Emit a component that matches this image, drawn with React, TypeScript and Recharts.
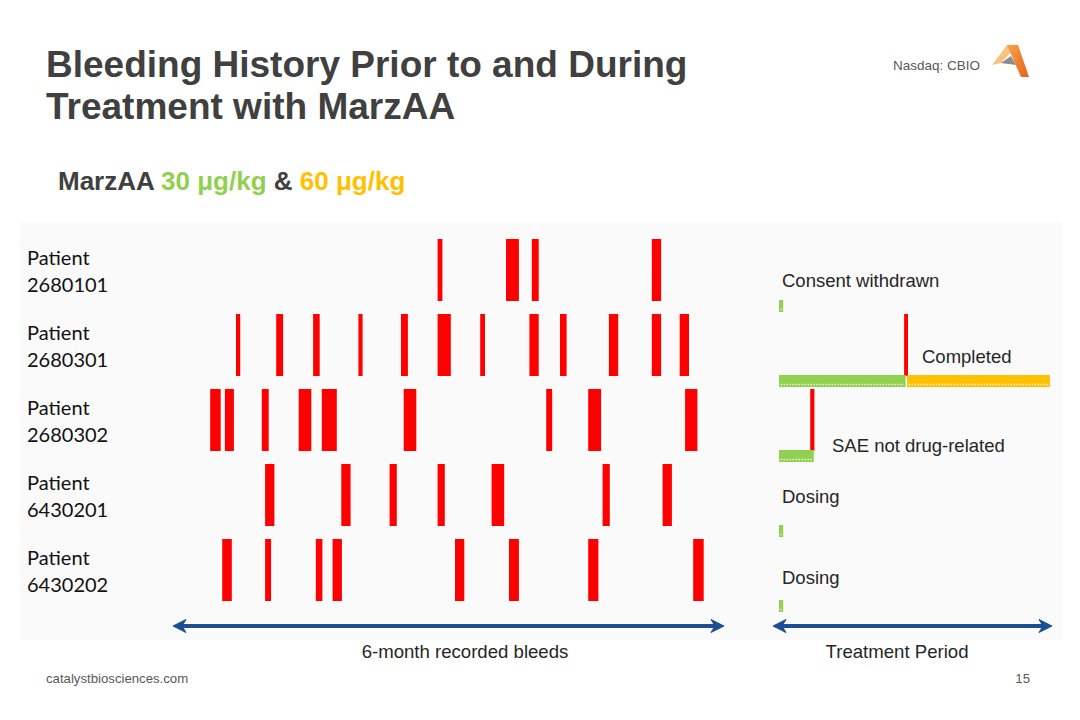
import React from "react";
import { BarChart, Bar, XAxis, YAxis } from "recharts";

// days counted from the start of the recorded 6-month window
const PATIENTS = ["2680101", "2680301", "2680302", "6430201", "6430202"];

const BLEEDS_2680101 = [[88.2, 89.8], [111, 115.3], [119.6, 121.9], [159.6, 162.7]];
const BLEEDS_2680301 = [
  [21, 22.4], [34.4, 36.7], [46.7, 48.9], [61.8, 63.2], [76, 78.3], [88.2, 92.6],
  [102.4, 104], [118.8, 121.9], [129, 131.2], [145.3, 148.4], [159.6, 162.7], [168.9, 172],
  [243.7, 245],
];
const BLEEDS_2680302 = [
  [12.4, 15.9], [17.3, 20.3], [29.6, 31.9], [41.9, 46.1], [49.6, 54.6], [76.9, 81.1],
  [124.4, 126.4], [138.4, 142.7], [170.7, 174.8], [212.4, 213.8],
];
const BLEEDS_6430201 = [[30.7, 33.8], [56.1, 59.2], [72.2, 74.6], [88.2, 90.6], [106.2, 110.4], [143.2, 145.6], [163.2, 166.3]];
const BLEEDS_6430202 = [[16.4, 19.6], [30.7, 32.7], [47.6, 49.8], [53.2, 56.3], [94, 97.1], [112, 115.3], [138.4, 141.8], [173.4, 176.9]];

const BLEEDS = [BLEEDS_2680101, BLEEDS_2680301, BLEEDS_2680302, BLEEDS_6430201, BLEEDS_6430202];

const DOSE_30 = [[202, 203.4], [202, 244.2], [202, 213.6], [202, 203.4], [202, 203.4]];
const DOSE_60: (number[] | null)[] = [null, [244.7, 292.3], null, null, null];

const NOTES = ["Consent withdrawn", "Completed", "SAE not drug-related", "Dosing", "Dosing"];
const DOMAIN_DAYS = 293;

const RED = "#FF0000";
const GREEN = "#92D050";
const ORANGE = "#FFC000";
const BLUE = "#1B4E93";
const TEXT = "#262626";

const MAX_BLEEDS = Math.max(...BLEEDS.map((b) => b.length));
const bleedIdx = Array.from({ length: MAX_BLEEDS }, (_, k) => k);

// gantt rows: transparent gap + bleed length, stacked per patient
const rows = PATIENTS.map((patient, i) => {
  const row: Record<string, number | string> = { patient };
  let prev = 0;
  bleedIdx.forEach((k) => {
    const b = BLEEDS[i][k];
    row[`g${k}`] = b ? b[0] - prev : 0;
    row[`b${k}`] = b ? b[1] - b[0] : 0;
    if (b) prev = b[1];
  });
  const d30 = DOSE_30[i];
  const d60 = DOSE_60[i];
  row.tg0 = d30[0];
  row.t30 = d30[1] - d30[0];
  row.tg1 = d60 ? d60[0] - d30[1] : 0;
  row.t60 = d60 ? d60[1] - d60[0] : 0;
  return row;
});

function PatientTick(props: any) {
  const { y, payload } = props;
  return (
    <g fill="#111" fontFamily="Lato, 'Open Sans', sans-serif" fontSize={20}>
      <text x={27} y={y - 4.5}>Patient</text>
      <text x={27} y={y + 22.5}>{payload.value}</text>
    </g>
  );
}

function DoseShape(props: any) {
  const { x, y, width, height, fill } = props;
  if (!width || width <= 0) return <g />;
  return (
    <g>
      <rect x={x} y={y} width={width} height={height} fill={fill} />
      <line
        x1={x + 1.5}
        x2={x + width - 1.5}
        y1={y + height - 2.5}
        y2={y + height - 2.5}
        stroke="#fff"
        strokeWidth={1.5}
        strokeDasharray="1.5 1.5"
        opacity={0.85}
      />
    </g>
  );
}

function Arrow({ x1, x2, y }: { x1: number; x2: number; y: number }) {
  return (
    <g fill={BLUE} stroke={BLUE}>
      <line x1={x1 + 8} x2={x2 - 8} y1={y} y2={y} strokeWidth={4} />
      <polygon points={`${x1},${y} ${x1 + 13},${y - 6.5} ${x1 + 9},${y} ${x1 + 13},${y + 6.5}`} strokeWidth={1} />
      <polygon points={`${x2},${y} ${x2 - 13},${y - 6.5} ${x2 - 9},${y} ${x2 - 13},${y + 6.5}`} strokeWidth={1} />
    </g>
  );
}

const NOTE_POS = [
  [782, 287],
  [922, 363],
  [832, 452],
  [782, 503],
  [782, 584],
];

export default function App() {
  return (
    <div
      style={{
        position: "absolute",
        left: 0,
        top: 0,
        width: 1080,
        height: 720,
        background: "#fff",
        overflow: "hidden",
        fontFamily: "'Liberation Sans', Arial, sans-serif",
      }}
    >
      <div style={{ position: "absolute", left: 20, top: 222, width: 1042, height: 418, background: "#FAFAFA" }} />

      <div style={{ position: "absolute", left: 0, top: 0 }}>
        <BarChart
          width={1080}
          height={720}
          data={rows}
          layout="vertical"
          margin={{ top: 232, right: 28, bottom: 77, left: 23 }}
        >
          <XAxis type="number" domain={[0, DOMAIN_DAYS]} allowDataOverflow hide />
          <YAxis
            yAxisId="bleed"
            type="category"
            dataKey="patient"
            width={150}
            axisLine={false}
            tickLine={false}
            interval={0}
            padding={{ top: 0, bottom: 36 }}
            tick={(p: any) => <PatientTick {...p} />}
          />
          <YAxis yAxisId="treat" type="category" dataKey="patient" hide padding={{ top: 36, bottom: 0 }} />
          {bleedIdx.flatMap((k) => [
            <Bar
              key={`g${k}`}
              yAxisId="bleed"
              stackId="bleed"
              dataKey={`g${k}`}
              barSize={62}
              fill="#fff"
              fillOpacity={0}
              isAnimationActive={false}
            />,
            <Bar
              key={`b${k}`}
              yAxisId="bleed"
              stackId="bleed"
              dataKey={`b${k}`}
              barSize={62}
              fill={RED}
              isAnimationActive={false}
            />,
          ])}
          <Bar yAxisId="treat" stackId="treat" dataKey="tg0" barSize={12} fill="#fff" fillOpacity={0} isAnimationActive={false} />
          <Bar yAxisId="treat" stackId="treat" dataKey="t30" barSize={12} fill={GREEN} shape={(p: any) => <DoseShape {...p} />} isAnimationActive={false} />
          <Bar yAxisId="treat" stackId="treat" dataKey="tg1" barSize={12} fill="#fff" fillOpacity={0} isAnimationActive={false} />
          <Bar yAxisId="treat" stackId="treat" dataKey="t60" barSize={12} fill={ORANGE} shape={(p: any) => <DoseShape {...p} />} isAnimationActive={false} />
        </BarChart>
      </div>

      <svg width={1080} height={720} style={{ position: "absolute", left: 0, top: 0, pointerEvents: "none" }}>
        <g fontFamily="'Liberation Sans', Arial, sans-serif">
          <text x={46} y={77} fontSize={37} fontWeight="bold" fill="#404040">
            Bleeding History Prior to and During
          </text>
          <text x={46} y={119} fontSize={37} fontWeight="bold" fill="#404040">
            Treatment with MarzAA
          </text>
          <text x={58} y={190} fontSize={26} fontWeight="bold" fill="#404040">
            MarzAA <tspan fill={GREEN}>30 μg/kg</tspan> &amp; <tspan fill={ORANGE}>60 μg/kg</tspan>
          </text>
          <text x={893} y={70} fontSize={13.5} fill="#595959">Nasdaq: CBIO</text>
          <text x={46} y={683} fontSize={13.2} fill="#595959">catalystbiosciences.com</text>
          <text x={1030} y={683} fontSize={13.2} fill="#595959" textAnchor="end">15</text>

          {NOTES.map((n, i) => (
            <text key={i} x={NOTE_POS[i][0]} y={NOTE_POS[i][1]} fontSize={18.5} fill={TEXT}>
              {n}
            </text>
          ))}

          <Arrow x1={173} x2={724} y={626} />
          <Arrow x1={773} x2={1052} y={626} />
          <text x={465} y={658} fontSize={18.6} fill={TEXT} textAnchor="middle">6-month recorded bleeds</text>
          <text x={897} y={658} fontSize={18.6} fill={TEXT} textAnchor="middle">Treatment Period</text>
        </g>

        <defs>
          <linearGradient id="logoDark" x1="0" y1="0" x2="1" y2="1">
            <stop offset="0" stopColor="#F6A24A" />
            <stop offset="1" stopColor="#E8621C" />
          </linearGradient>
        </defs>
        <polygon points="992,65 1007,45 1018,45 1001,63" fill="#F9C27F" />
        <polygon points="1001,63 1011,56 1016,65" fill="#8C8C8C" />
        <polygon points="1007,45 1018,45 1029,77 1021,77" fill="url(#logoDark)" />
      </svg>
    </div>
  );
}
